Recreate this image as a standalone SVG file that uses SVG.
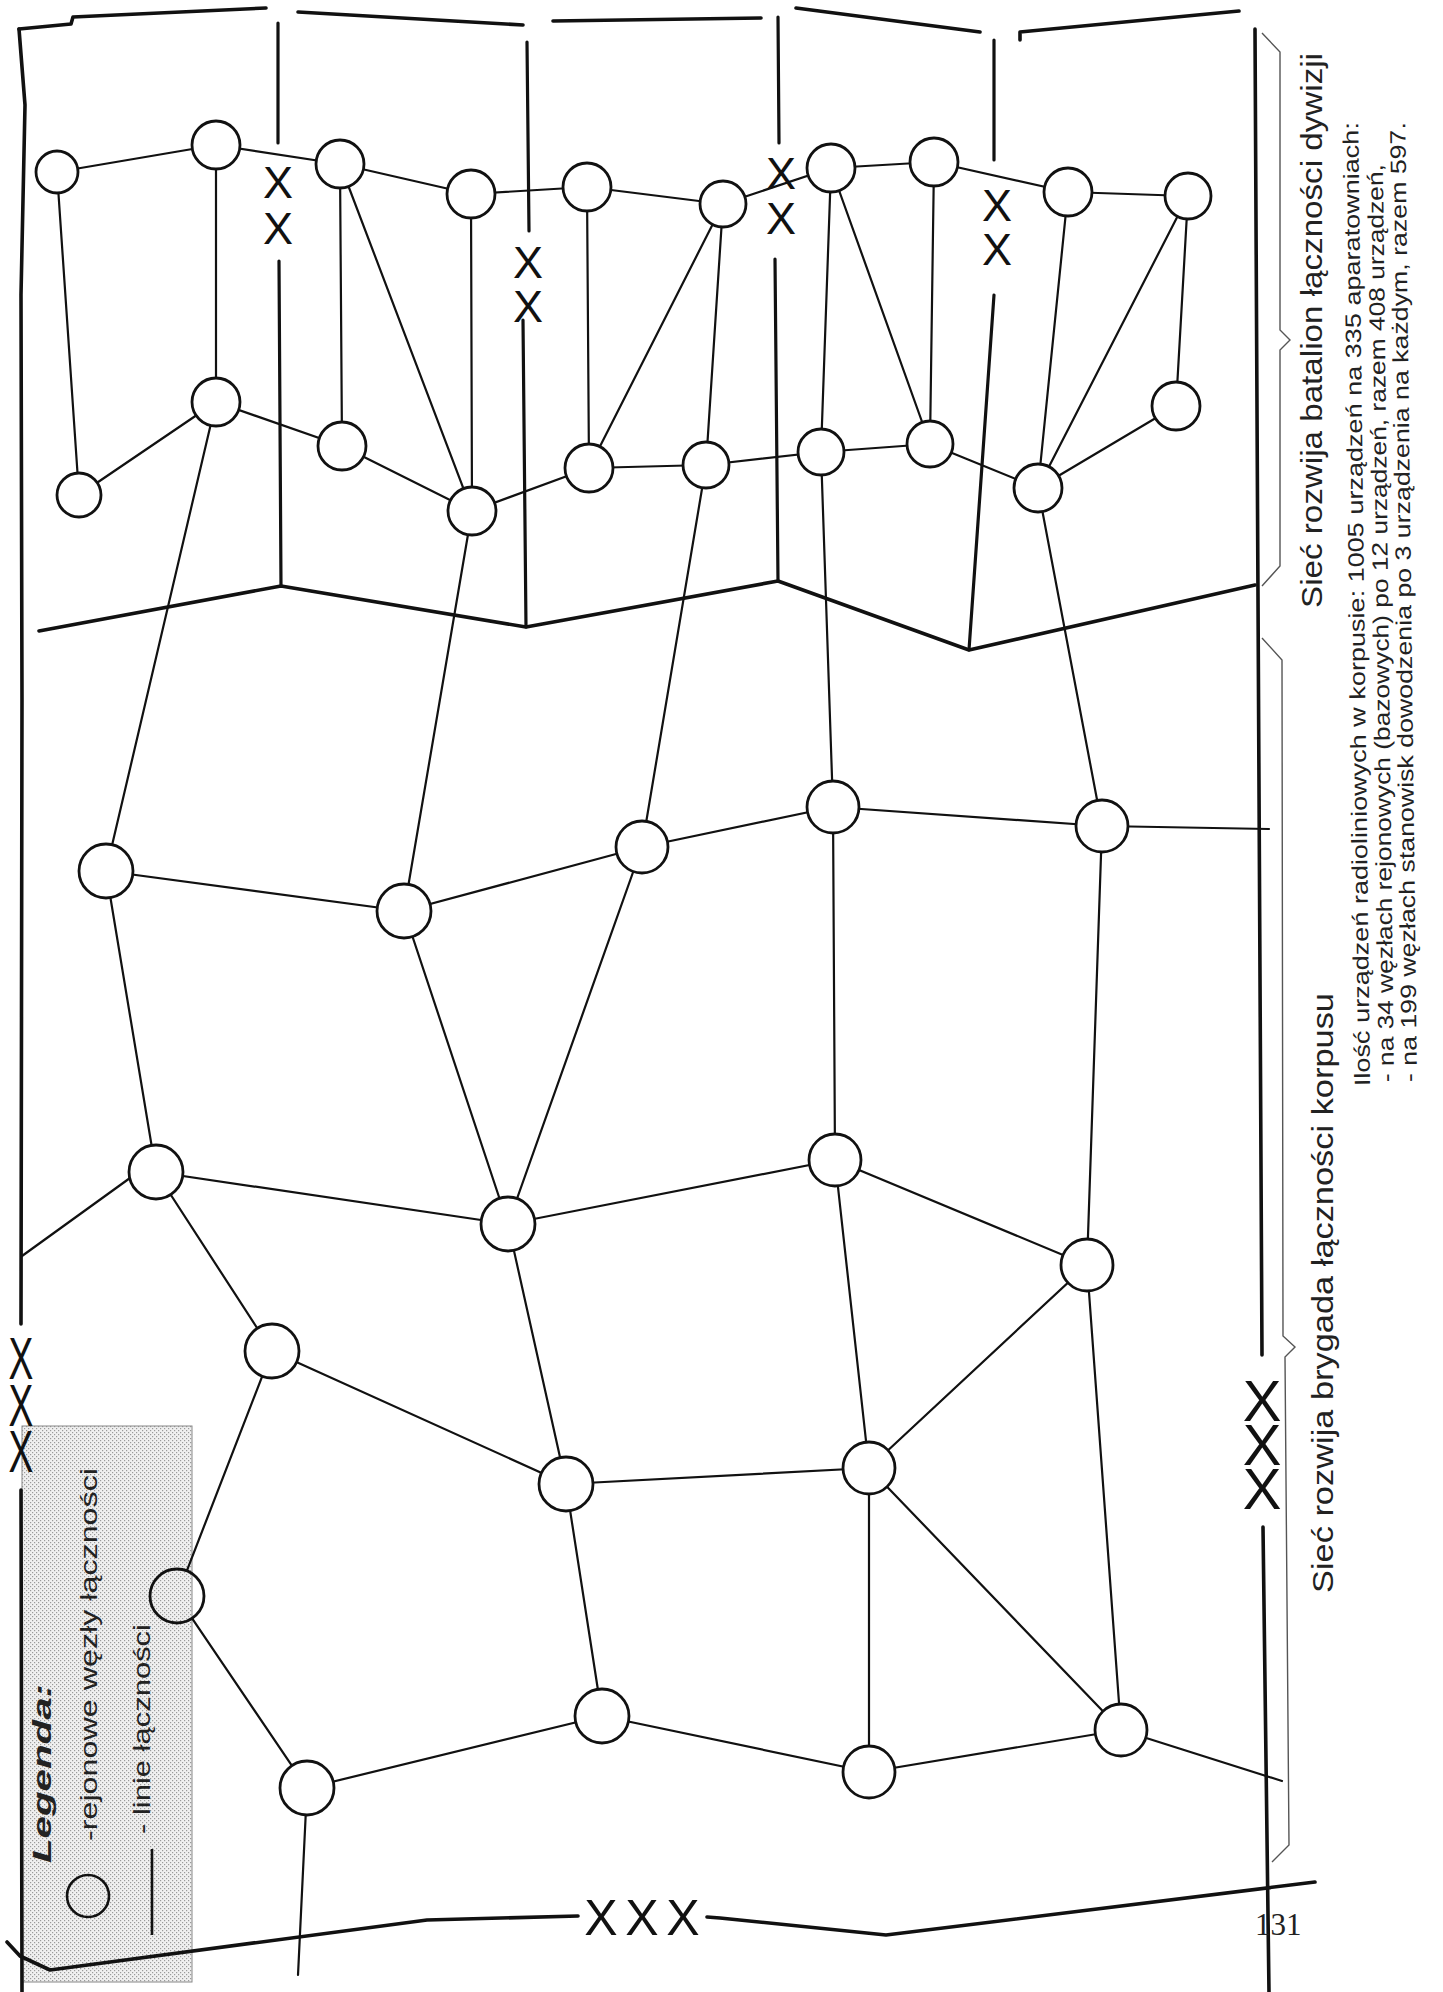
<svg xmlns="http://www.w3.org/2000/svg" width="1443" height="1992" viewBox="0 0 1443 1992">
<style>
.e{stroke:#111;stroke-width:2.2;fill:none;stroke-linecap:round}
.b{stroke:#111;stroke-width:3.6;fill:none;stroke-linecap:round;stroke-linejoin:round}
.v{stroke:#111;stroke-width:3.2;fill:none;stroke-linecap:round}
.br{stroke:#555;stroke-width:1.4;fill:none}
.n circle{fill:#fff;stroke:#111;stroke-width:2.8}
.x{font-family:"Liberation Sans",Arial,sans-serif;fill:#111;text-anchor:middle}
.t{font-family:"Liberation Sans",Arial,sans-serif;fill:#222}
</style>
<defs>
<pattern id="dots" width="4" height="4" patternUnits="userSpaceOnUse">
<rect width="4" height="4" fill="#f0f0f0"/>
<rect x="0" y="0" width="1.2" height="1.2" fill="#9a9a9a"/>
<rect x="2" y="2" width="1.2" height="1.2" fill="#9a9a9a"/>
</pattern>
</defs>
<rect width="1443" height="1992" fill="#fff"/>

<g id="legend">
<rect x="22" y="1426" width="170" height="556" fill="url(#dots)" stroke="#888" stroke-width="1"/>
<text class="t" font-size="26" font-weight="bold" font-style="italic" transform="translate(51,1863) rotate(-90)" textLength="179" lengthAdjust="spacingAndGlyphs">Legenda:</text>
<circle cx="88" cy="1896" r="21" fill="none" stroke="#111" stroke-width="2.6"/>
<text class="t" font-size="24" transform="translate(97,1841) rotate(-90)" textLength="373" lengthAdjust="spacingAndGlyphs">-rejonowe węzły łączności</text>
<line x1="152" y1="1849" x2="152" y2="1935" stroke="#111" stroke-width="2.6"/>
<text class="t" font-size="24" transform="translate(150,1834) rotate(-90)" textLength="210" lengthAdjust="spacingAndGlyphs">- linie łączności</text>
</g>

<g id="connectors">
<path class="e" d="M57,172L216,145 M216,145L340,164 M340,164L471,194 M471,194L587,187 M587,187L723,204 M723,204L831,168 M831,168L934,162 M934,162L1068,192 M1068,192L1188,196"/>
<path class="e" d="M57,172L79,495 M216,145L216,402 M340,164L342,446 M340,164L472,511 M471,194L472,511 M587,187L589,468 M589,468L723,204 M723,204L706,465 M831,168L821,452 M831,168L930,444 M934,162L930,444 M1068,192L1038,488 M1188,196L1038,488 M1188,196L1176,406 M1176,406L1038,488"/>
<path class="e" d="M79,495L216,402 M216,402L342,446 M342,446L472,511 M472,511L589,468 M589,468L706,465 M706,465L821,452 M821,452L930,444 M930,444L1038,488"/>
<path class="e" d="M216,402L106,871 M472,511L404,911 M706,465L642,847 M821,452L833,807 M1038,488L1102,826"/>
<path class="e" d="M106,871L404,911 M404,911L642,847 M642,847L833,807 M833,807L1102,826 M1102,826L1269,829"/>
<path class="e" d="M106,871L156,1172 M404,911L508,1224 M642,847L508,1224 M833,807L835,1160 M1102,826L1087,1265"/>
<path class="e" d="M156,1172L508,1224 M508,1224L835,1160 M835,1160L1087,1265 M130,1178L22,1256"/>
<path class="e" d="M156,1172L272,1351 M508,1224L566,1484 M835,1160L869,1468 M1087,1265L869,1468 M1087,1265L1121,1730"/>
<path class="e" d="M272,1351L566,1484 M566,1484L869,1468"/>
<path class="e" d="M272,1351L186.8,1570.8 M192.1,1618.4L307,1788 M566,1484L602,1716 M307,1788L602,1716 M602,1716L869,1772 M869,1468L869,1772 M869,1468L1121,1730 M869,1772L1121,1730 M1121,1730L1282,1781 M307,1788L298,1975"/>
</g>

<g id="frame">
<path class="b" d="M19,29L71,24L73,17L266,8 M298,12L523,25 M553,21L761,18 M796,8L980,32 M1020,40L1020,32L1239,11"/>
<path class="b" d="M19,29L25,105L21,295L22,700L21,1324 M21,1490L22,1992"/>
<path class="b" d="M39,631L281,586L526,627L778,581L969,650L1255,585"/>
<path class="v" d="M278,23L278,143 M279,261L281,586 M527,42L529,231 M523,320L526,627 M778,17L779,143 M775,259L778,581 M994,40L994,160 M994,295L969,650"/>
<path class="b" d="M1255,29L1262,1355 M1263,1527L1269,1992"/>
<path class="b" d="M7,1942L20,1956L50,1970L427,1920L578,1916 M707,1917L720,1918L886,1935L1315,1882"/>
<path class="br" d="M1262,33L1280,52L1280,330L1290,340L1280,350L1280,566L1262,586"/>
<path class="br" d="M1262,638L1282,660L1283,1336L1295,1347L1285,1357L1289,1845L1272,1862"/>
</g>

<g id="symbols">
<text class="x" font-size="45" x="278 278" y="198 244">XX</text>
<text class="x" font-size="45" x="528 528" y="278 322">XX</text>
<text class="x" font-size="45" x="781 781" y="189 234">XX</text>
<text class="x" font-size="45" x="997 997" y="221 265">XX</text>
<text class="x" font-size="58" x="1262 1262 1262" y="1421 1465 1509">XXX</text>
<text class="x" font-size="50" x="601 642 683" y="1935 1935 1935">XXX</text>
<text class="x" font-size="60" transform="translate(21,0) scale(0.62,1)" x="0 0 0" y="1379 1426 1472">XXX</text>
</g>

<g id="nodes" class="n">
<g id="n1"><circle cx="57" cy="172" r="21"/></g>
<g id="n2"><circle cx="216" cy="145" r="24"/></g>
<g id="n3"><circle cx="340" cy="164" r="24"/></g>
<g id="n4"><circle cx="471" cy="194" r="24"/></g>
<g id="n5"><circle cx="587" cy="187" r="24"/></g>
<g id="n6"><circle cx="723" cy="204" r="23"/></g>
<g id="n13"><circle cx="831" cy="168" r="24"/></g>
<g id="n14"><circle cx="934" cy="162" r="24"/></g>
<g id="n15"><circle cx="1068" cy="192" r="24"/></g>
<g id="n16"><circle cx="1188" cy="196" r="23"/></g>
<g id="n7"><circle cx="79" cy="495" r="22"/></g>
<g id="n8"><circle cx="216" cy="402" r="24"/></g>
<g id="n9"><circle cx="342" cy="446" r="24"/></g>
<g id="n10"><circle cx="472" cy="511" r="24"/></g>
<g id="n11"><circle cx="589" cy="468" r="24"/></g>
<g id="n12"><circle cx="706" cy="465" r="23"/></g>
<g id="n17"><circle cx="821" cy="452" r="23"/></g>
<g id="n18"><circle cx="930" cy="444" r="23"/></g>
<g id="n19"><circle cx="1038" cy="488" r="24"/></g>
<g id="n20"><circle cx="1176" cy="406" r="24"/></g>
<g id="n21"><circle cx="106" cy="871" r="27"/></g>
<g id="n22"><circle cx="404" cy="911" r="27"/></g>
<g id="n23"><circle cx="642" cy="847" r="26"/></g>
<g id="n26"><circle cx="833" cy="807" r="26"/></g>
<g id="n27"><circle cx="1102" cy="826" r="26"/></g>
<g id="n24"><circle cx="156" cy="1172" r="27"/></g>
<g id="n25"><circle cx="508" cy="1224" r="27"/></g>
<g id="n28"><circle cx="835" cy="1160" r="26"/></g>
<g id="n29"><circle cx="1087" cy="1265" r="26"/></g>
<g id="n36"><circle cx="272" cy="1351" r="27"/></g>
<g id="n30"><circle cx="566" cy="1484" r="27"/></g>
<g id="n31"><circle cx="869" cy="1468" r="26"/></g>
<g id="n38"><circle cx="177" cy="1596" r="27" style="fill:none"/></g>
<g id="n32"><circle cx="602" cy="1716" r="27"/></g>
<g id="n33"><circle cx="869" cy="1772" r="26"/></g>
<g id="n34"><circle cx="1121" cy="1730" r="26"/></g>
<g id="n40"><circle cx="307" cy="1788" r="27"/></g>
</g>

<g id="labels">
<text class="t" font-size="30" transform="translate(1322,608) rotate(-90)" textLength="555" lengthAdjust="spacingAndGlyphs">Sieć rozwija batalion łączności dywizji</text>
<text class="t" font-size="30" transform="translate(1333,1593) rotate(-90)" textLength="600" lengthAdjust="spacingAndGlyphs">Sieć rozwija brygada łączności korpusu</text>
<text class="t" font-size="22" transform="translate(1370,1086) rotate(-90.7)" textLength="964" lengthAdjust="spacingAndGlyphs">Ilość urządzeń  radioliniowych w korpusie: 1005 urządzeń na 335 aparatowniach:</text>
<text class="t" font-size="22" transform="translate(1394,1082) rotate(-90.7)" textLength="918" lengthAdjust="spacingAndGlyphs">- na 34 węzłach rejonowych (bazowych) po 12 urządzeń, razem 408 urządzeń,</text>
<text class="t" font-size="22" transform="translate(1417,1082) rotate(-90.7)" textLength="960" lengthAdjust="spacingAndGlyphs">- na 199 węzłach stanowisk dowodzenia po 3 urządzenia na każdym, razem 597.</text>
<text font-family="'Liberation Serif','Times New Roman',serif" font-size="31" fill="#222" x="1255" y="1935">131</text>
</g>
</svg>
